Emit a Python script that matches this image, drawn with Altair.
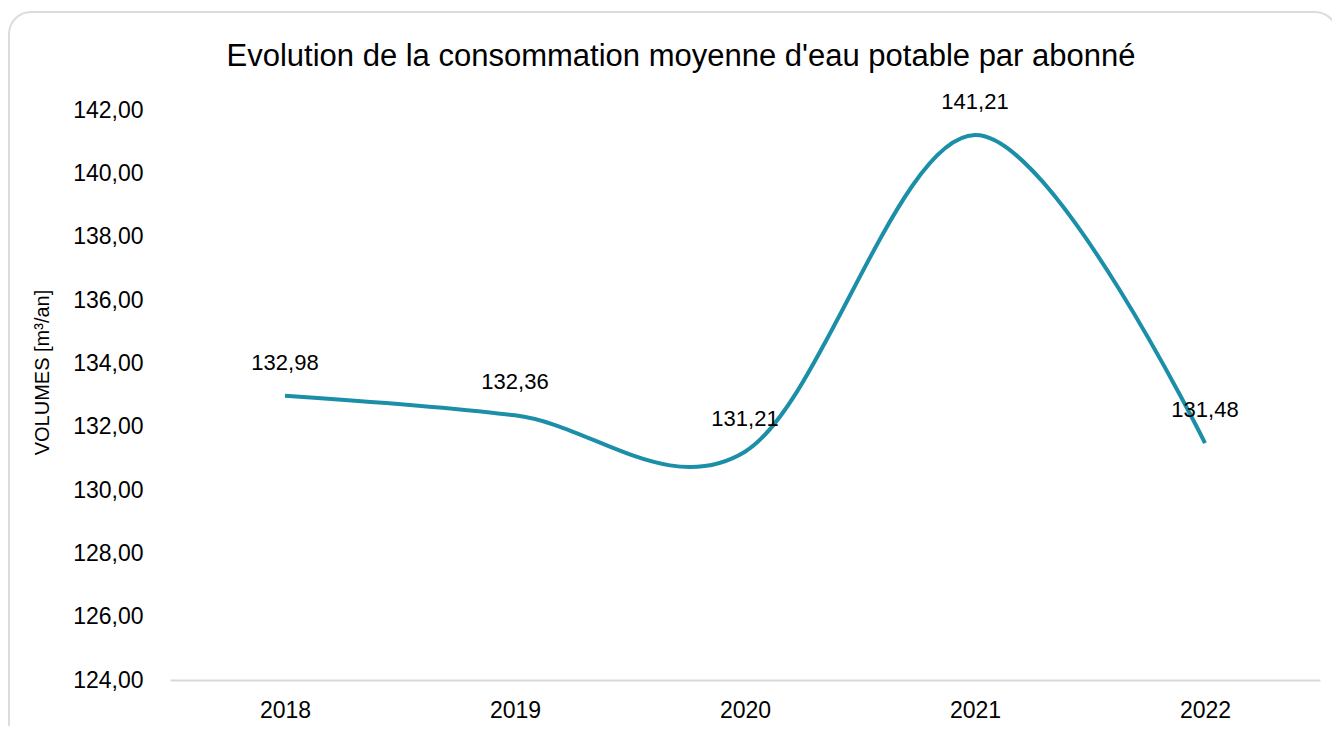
import altair as alt
import pandas as pd

years = ["2018", "2019", "2020", "2021", "2022"]
values = [132.98, 132.36, 131.21, 141.21, 131.48]
labels = ["132,98", "132,36", "131,21", "141,21", "131,48"]
title_text = ["Evolution de la consommation moyenne d'eau potable par abonné"]

df = pd.DataFrame({"year": years, "value": values, "label": labels})

FONT = "Liberation Sans Narrow, Arial Narrow, Liberation Sans"
LINE = "#1b8ea8"

base = alt.Chart(df)

frame = alt.Chart(pd.DataFrame({"k": [0]})).mark_rect(
    fill="white", fillOpacity=0, stroke="#dcdcdc", strokeWidth=2, cornerRadius=22
).encode(
    x=alt.value(-161), x2=alt.value(1167), y=alt.value(-98), y2=alt.value(660)
)

title = alt.Chart(pd.DataFrame({"t": title_text})).mark_text(
    font=FONT, fontSize=31, color="#000", align="center", baseline="middle"
).encode(x=alt.value(511), y=alt.value(-53), text="t:N")

y_enc = alt.Y(
    "value:Q",
    scale=alt.Scale(domain=[124, 142], nice=False, zero=False),
    axis=alt.Axis(
        values=[124, 126, 128, 130, 132, 134, 136, 138, 140, 142],
        labelExpr="replace(format(datum.value, '.2f'), '.', ',')",
        title="VOLUMES [m³/an]",
        titleFont=FONT, titleFontSize=20, titleFontWeight="normal", titleColor="#000",
        titlePadding=20, titleY=262,
        labelFont=FONT, labelFontSize=23, labelColor="#000", labelPadding=27,
        domain=False, ticks=False, grid=False,
    ),
)

x_enc = alt.X(
    "year:N",
    sort=years,
    scale=alt.Scale(type="point", padding=0.5),
    axis=alt.Axis(
        title=None, labelAngle=0, labelFont=FONT, labelFontSize=23,
        labelColor="#000", labelPadding=19, ticks=False,
        domainColor="#d9d9d9", domainWidth=2, grid=False,
    ),
)

line = base.mark_line(color=LINE, strokeWidth=4, interpolate="cardinal").encode(x=x_enc, y=y_enc)

text = base.mark_text(font=FONT, fontSize=22, color="#000", dy=-33, baseline="middle").encode(
    x=alt.X("year:N", sort=years), y="value:Q", text="label:N"
)

chart = alt.layer(frame, title, line, text).properties(
    width=1150, height=570,
    autosize=alt.AutoSizeParams(type="none"),
    padding={"left": 162, "top": 102, "right": 12, "bottom": 46},
).configure_view(stroke=None)

chart.save("out.html", embed_options={"renderer": "svg", "actions": False})
